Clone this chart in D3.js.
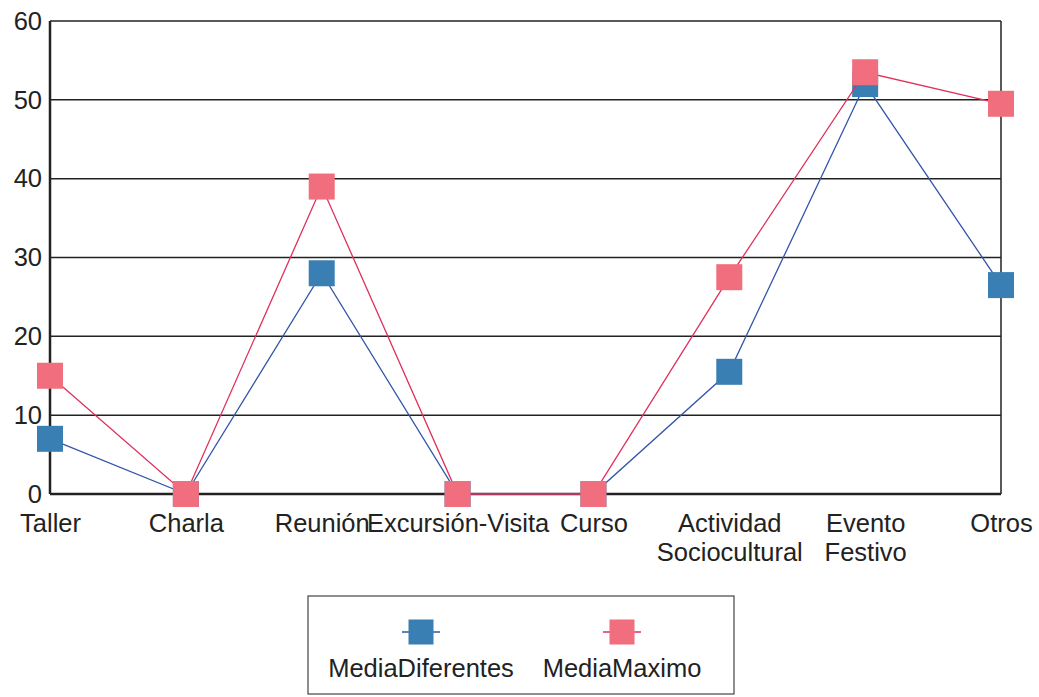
<!DOCTYPE html>
<html>
<head>
<meta charset="utf-8">
<script src="https://cdn.jsdelivr.net/npm/d3@7"></script>
<style>
  body { margin: 0; background: #fff; }
  svg { display: block; font-family: "Liberation Sans", Arial, sans-serif; }
</style>
</head>
<body>
<svg id="chart" width="1039" height="697"></svg>
<script>
const categories = ["Taller", "Charla", "Reunión", "Excursión-Visita", "Curso", "Actividad\nSociocultural", "Evento\nFestivo", "Otros"];
const mediaDiferentes = [7, 0, 28, 0, 0, 15.5, 52, 26.5];
const mediaMaximo = [15, 0, 39, 0, 0, 27.5, 53.5, 49.5];
const yTicks = [0, 10, 20, 30, 40, 50, 60];
const seriesNames = ["MediaDiferentes", "MediaMaximo"];

(function () {
const svg = d3.select("#chart");
const pLeft = 50, pRight = 1001, pTop = 21, pBottom = 494;
const fs = 25.5;

const x = d3.scalePoint().domain(categories).range([pLeft, pRight]).padding(0);
const y = d3.scaleLinear().domain([0, 60]).range([pBottom, pTop]);

// gridlines
svg.append("g").selectAll("line").data(yTicks).join("line")
  .attr("x1", pLeft).attr("x2", pRight)
  .attr("y1", d => y(d)).attr("y2", d => y(d))
  .attr("stroke", "#222").attr("stroke-width", 1.5);

// frame
svg.append("line").attr("x1", pLeft).attr("x2", pLeft).attr("y1", pTop).attr("y2", pBottom).attr("stroke", "#222").attr("stroke-width", 2.5);
svg.append("line").attr("x1", pRight).attr("x2", pRight).attr("y1", pTop).attr("y2", pBottom).attr("stroke", "#222").attr("stroke-width", 1.5);
svg.append("line").attr("x1", pLeft).attr("x2", pRight).attr("y1", pBottom).attr("y2", pBottom).attr("stroke", "#222").attr("stroke-width", 2.5);

// y axis labels
const yAxis = d3.axisLeft(y).tickValues(yTicks).tickSize(0).tickPadding(8);
const gy = svg.append("g").attr("transform", `translate(${pLeft},0)`).call(yAxis);
gy.select(".domain").remove();
gy.selectAll("text").attr("font-size", fs).attr("fill", "#222").attr("font-family", "Liberation Sans, Arial, sans-serif");

// x axis labels
const xAxis = d3.axisBottom(x).tickSize(0).tickFormat(() => "");
const gx = svg.append("g").attr("transform", `translate(0,${pBottom})`).call(xAxis);
gx.select(".domain").remove();
gx.selectAll(".tick").each(function(d) {
  const t = d3.select(this).append("text")
    .attr("fill", "#222").attr("font-size", fs).attr("text-anchor", "middle")
    .attr("font-family", "Liberation Sans, Arial, sans-serif");
  d.split("\n").forEach((ln, i) => {
    t.append("tspan").attr("x", 0).attr("y", 38 + i * 29).text(ln);
  });
});

const colors = {
  MediaDiferentes: { marker: "#3a7fb3", line: "#3355aa" },
  MediaMaximo: { marker: "#f06e7d", line: "#e0305c" }
};
const series = [
  { name: "MediaDiferentes", values: mediaDiferentes },
  { name: "MediaMaximo", values: mediaMaximo }
];
const lineGen = d3.line().x((d, i) => x(categories[i])).y(d => y(d));
const ms = 26;

series.forEach(s => {
  svg.append("path").datum(s.values)
    .attr("d", lineGen).attr("fill", "none")
    .attr("stroke", colors[s.name].line).attr("stroke-width", 1.3);
  svg.append("g").selectAll("rect").data(s.values).join("rect")
    .attr("x", (d, i) => x(categories[i]) - ms / 2)
    .attr("y", d => y(d) - ms / 2)
    .attr("width", ms).attr("height", ms)
    .attr("fill", colors[s.name].marker);
});

// legend
const legend = svg.append("g");
legend.append("rect").attr("x", 308).attr("y", 596).attr("width", 426).attr("height", 98)
  .attr("fill", "#fff").attr("stroke", "#444").attr("stroke-width", 1.2);
const legendX = d3.scalePoint().domain(seriesNames).range([421, 622]);
seriesNames.forEach(n => {
  const cx = legendX(n);
  legend.append("line").attr("x1", cx - 19).attr("x2", cx + 19).attr("y1", 632).attr("y2", 632)
    .attr("stroke", colors[n].line).attr("stroke-width", 1.3);
  legend.append("rect").attr("x", cx - 12.5).attr("y", 632 - 12.5).attr("width", 25).attr("height", 25)
    .attr("fill", colors[n].marker);
  legend.append("text").attr("x", cx).attr("y", 677).attr("text-anchor", "middle")
    .attr("font-size", fs).attr("fill", "#222").text(n);
});
})();
</script>
</body>
</html>
